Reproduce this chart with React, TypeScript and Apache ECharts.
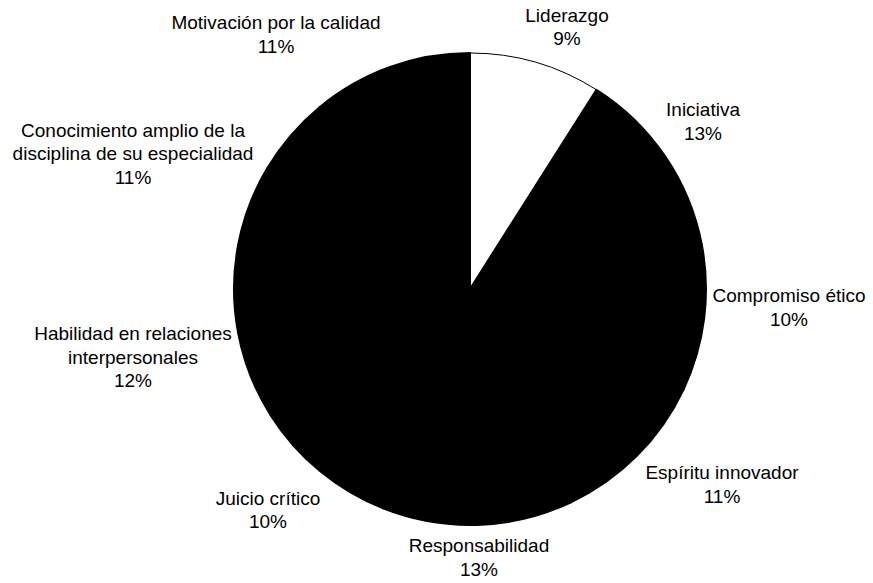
import React, { useEffect, useRef } from "react";
import * as echarts from "echarts";

const categories = [
  "Liderazgo",
  "Iniciativa",
  "Compromiso ético",
  "Espíritu innovador",
  "Responsabilidad",
  "Juicio crítico",
  "Habilidad en relaciones\ninterpersonales",
  "Conocimiento amplio de la\ndisciplina de su especialidad",
  "Motivación por la calidad",
];
const values = [9, 13, 10, 11, 13, 10, 12, 11, 11];
const sliceColors = ["#ffffff", "#000000", "#000000", "#000000", "#000000", "#000000", "#000000", "#000000", "#000000"];
// label anchor (text block centre) positions in px
const labelPos: [number, number][] = [
  [567, 27],
  [703, 121.5],
  [789, 307.5],
  [722, 484.5],
  [479, 557.5],
  [268, 510],
  [133, 357],
  [133, 153.5],
  [276, 34.5],
];

export default function App() {
  const ref = useRef<HTMLDivElement>(null);
  useEffect(() => {
    if (!ref.current) return;
    const chart = echarts.init(ref.current, null, { renderer: "svg" });
    chart.setOption({
      animation: false,
      backgroundColor: "#ffffff",
      series: [
        {
          type: "pie",
          center: [470, 289],
          radius: 236,
          startAngle: 90,
          clockwise: true,
          avoidLabelOverlap: false,
          data: categories.map((c, i) => ({
            name: c,
            value: values[i],
            itemStyle: {
              color: sliceColors[i],
              borderColor: "#000000",
              borderWidth: i === 0 ? 1 : 2,
            },
          })),
          emphasis: { disabled: true },
          labelLine: { show: false },
          label: {
            show: true,
            position: "outside",
            formatter: (p: any) => `${p.name}\n${values[p.dataIndex]}%`,
            fontFamily: "Liberation Sans, Arial, sans-serif",
            fontSize: 19,
            lineHeight: 23.5,
            color: "#000000",
            align: "center",
          },
          labelLayout: (p: any) => ({
            x: labelPos[p.dataIndex][0],
            y: labelPos[p.dataIndex][1],
            align: "center",
            verticalAlign: "middle",
          }),
        },
      ],
    });
    return () => chart.dispose();
  }, []);
  return (
    <div
      ref={ref}
      style={{ position: "absolute", left: 0, top: 0, width: 873, height: 583 }}
    />
  );
}
